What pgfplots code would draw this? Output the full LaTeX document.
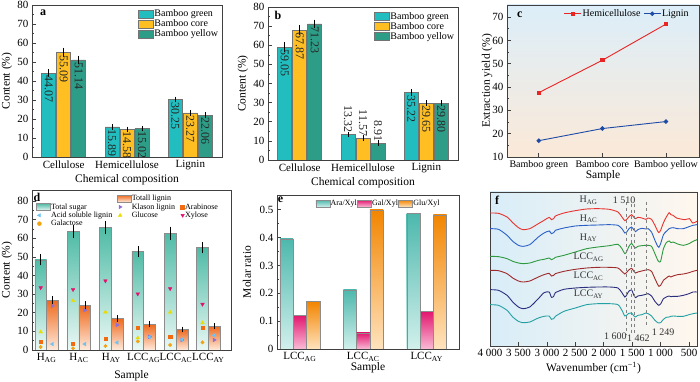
\documentclass[border=0pt]{standalone}
\usepackage{fontspec}
\setmainfont{Liberation Serif}
\usepackage{pgfplots}
\pgfplotsset{compat=1.18}

\definecolor{cg}{HTML}{22BEBF}
\definecolor{cc}{HTML}{FFBF22}
\definecolor{cy}{HTML}{2E9D88}
\definecolor{cred}{HTML}{E82424}
\definecolor{cblue}{HTML}{1E4BA5}
\definecolor{tsT}{HTML}{4FBBA6}
\definecolor{tsB}{HTML}{EAF8F5}
\definecolor{tlT}{HTML}{EE6A1E}
\definecolor{tlB}{HTML}{FFEADC}
\definecolor{eaT}{HTML}{4DB8AD}
\definecolor{eaB}{HTML}{D2F0EC}
\definecolor{epT}{HTML}{E2176F}
\definecolor{epB}{HTML}{F9BBD6}
\definecolor{eoT}{HTML}{F28500}
\definecolor{eoB}{HTML}{FFE3BE}
\definecolor{bgblue}{HTML}{DCEEF9}
\definecolor{bgpeach}{HTML}{FBE9D8}
\definecolor{fbgL}{HTML}{D8EDF8}
\definecolor{fbgR}{HTML}{FFF7EE}
\definecolor{axc}{HTML}{404040}
\definecolor{fR}{HTML}{E8332E}
\definecolor{fB}{HTML}{2A5FC8}
\definecolor{fG}{HTML}{2E9A40}
\definecolor{fBr}{HTML}{9E2B2B}
\definecolor{fN}{HTML}{2B2D7E}
\definecolor{fT}{HTML}{23A0A3}
\definecolor{mXy}{HTML}{E5106E}
\definecolor{mGlu}{HTML}{E8DC00}
\definecolor{mAra}{HTML}{F26B10}
\definecolor{mGal}{HTML}{F2A312}
\definecolor{mKl}{HTML}{8C6FD8}
\definecolor{mAs}{HTML}{6EC3F2}

\tikzset{letter/.style={font=\bfseries\fontsize{12}{12}\selectfont}}
\pgfplotsset{
  panel/.style={
    scale only axis, anchor=south west,
    axis line style={draw=axc, line width=0.7pt},
    tick align=inside,
    major tick length=3.5pt, minor tick length=2pt,
    tick style={draw=axc, line width=0.6pt},
    ytick pos=left, xtick pos=bottom,
    /pgf/number format/assume math mode=true,
    tick label style={font=\fontsize{11}{12}\selectfont, text=black},
    label style={font=\fontsize{11.5}{13}\selectfont},
  },
  bars/.style={ybar, bar width=14pt, bar shift=0pt, draw=black!55, line width=0.4pt, forget plot,
    error bars/y dir=both, error bars/y explicit,
    error bars/error bar style={black, line width=0.5pt},
    error bars/error mark options={black, line width=0.5pt, mark size=1.8pt}},
  inlab/.style={nodes near coords, point meta=explicit symbolic,
    every node near coord/.append style={rotate=-90, anchor=west, font=\fontsize{12}{12}\selectfont, inner sep=2.5pt, text=black!85}},
  outlab/.style={nodes near coords, point meta=explicit symbolic,
    every node near coord/.append style={rotate=-90, anchor=east, font=\fontsize{12}{12}\selectfont, inner sep=1.5pt, text=black!85}},
  dsug/.style={bars, bar width=11.7pt, draw=black!45, top color=tsT, bottom color=tsB},
  dlig/.style={bars, bar width=11.7pt, draw=black!45, top color=tlT, bottom color=tlB},
  ebar/.style={ybar, forget plot, bar width=13.3pt, bar shift=0pt, draw=black!45, line width=0.4pt},
  sw/.style={legend image code/.code={\draw[draw=black!55,#1] (0pt,-4pt) rectangle (15pt,4pt);}},
  sws/.style={legend image code/.code={\draw[draw=black!45,#1] (0pt,-3.5pt) rectangle (14pt,3.5pt);}},
  mk/.style n args={3}{legend image code/.code={\path plot[only marks, mark=#1, mark size=2pt, mark options={draw=#2, fill=#2, rotate=#3}] coordinates {(3pt,0pt)};}},
}

\begin{document}
\begin{tikzpicture}[font=\fontsize{11}{13}\selectfont]
\useasboundingbox (0,0) rectangle (700pt,382pt);

%================ a ================
\begin{axis}[panel, at={(32pt,225pt)}, width=190pt, height=152pt,
  xmin=-0.5, xmax=2.5, ymin=0, ymax=80,
  xtick={0,1,2}, xticklabels={Cellulose,Hemicellulose,Lignin}, major x tick style={draw=none},
  ytick={0,10,...,80}, minor y tick num=1,
  ylabel={Content (\%)}, xlabel={Chemical composition},
  ylabel style={at={(axis description cs:-0.132,0.5)}, anchor=center},
  xlabel style={at={(axis description cs:0.5,-0.151)}, anchor=center},
  legend style={at={(axis description cs:1,0.99)}, anchor=north east, draw=none, fill=none,
    font=\fontsize{10}{10}\selectfont, nodes={inner sep=0.8pt}, row sep=0pt},
  legend cell align=left]
\addlegendimage{sw={fill=cg}}\addlegendentry{Bamboo green}
\addlegendimage{sw={fill=cc}}\addlegendentry{Bamboo core}
\addlegendimage{sw={fill=cy}}\addlegendentry{Bamboo yellow}
\addplot[bars, inlab, fill=cg] table[x=x,y=y,y error=e,meta=l]{
x y e l
-0.2368 44.07 1.2 44.07
0.7632 15.89 0.5 15.89
1.7632 30.25 0.6 30.25
};
\addplot[bars, inlab, fill=cc] table[x=x,y=y,y error=e,meta=l]{
x y e l
0 55.09 1.5 55.09
1 14.58 0.5 14.58
2 23.27 0.5 23.27
};
\addplot[bars, inlab, fill=cy] table[x=x,y=y,y error=e,meta=l]{
x y e l
0.2368 51.14 1.3 51.14
1.2368 15.02 0.4 15.02
2.2368 22.06 0.5 22.06
};
\node[letter] at (rel axis cs:0.058,0.947) {a};
\end{axis}

%================ b ================
\begin{axis}[panel, at={(268pt,222pt)}, width=190pt, height=153pt,
  xmin=-0.5, xmax=2.5, ymin=0, ymax=80,
  xtick={0,1,2}, xticklabels={Cellulose,Hemicellulose,Lignin}, major x tick style={draw=none},
  ytick={0,10,...,80}, minor y tick num=1,
  ylabel={Content (\%)}, xlabel={Chemical composition},
  ylabel style={at={(axis description cs:-0.132,0.5)}, anchor=center},
  xlabel style={at={(axis description cs:0.5,-0.150)}, anchor=center},
  legend style={at={(axis description cs:1,0.985)}, anchor=north east, draw=none, fill=none,
    font=\fontsize{10}{10}\selectfont, nodes={inner sep=0.8pt}, row sep=0pt},
  legend cell align=left]
\addlegendimage{sw={fill=cg}}\addlegendentry{Bamboo green}
\addlegendimage{sw={fill=cc}}\addlegendentry{Bamboo core}
\addlegendimage{sw={fill=cy}}\addlegendentry{Bamboo yellow}
\addplot[bars, inlab, fill=cg] table[x=x,y=y,y error=e,meta=l]{
x y e l
-0.2368 59.05 1.5 59.05
1.7632 35.22 0.8 35.22
};
\addplot[bars, outlab, fill=cg] table[x=x,y=y,y error=e,meta=l]{
x y e l
0.7632 13.32 0.4 13.32
};
\addplot[bars, inlab, fill=cc] table[x=x,y=y,y error=e,meta=l]{
x y e l
0 67.87 1.8 67.87
2 29.65 0.6 29.65
};
\addplot[bars, outlab, fill=cc] table[x=x,y=y,y error=e,meta=l]{
x y e l
1 11.57 0.5 11.57
};
\addplot[bars, inlab, fill=cy] table[x=x,y=y,y error=e,meta=l]{
x y e l
0.2368 71.23 1.2 71.23
2.2368 29.80 0.5 29.80
};
\addplot[bars, outlab, fill=cy] table[x=x,y=y,y error=e,meta=l]{
x y e l
1.2368 8.91 0.4 8.91
};
\node[letter] at (rel axis cs:0.053,0.948) {b};
\end{axis}

%================ c ================
\begin{axis}[panel, at={(507pt,225pt)}, width=192pt, height=152pt,
  xmin=-0.5, xmax=2.52, ymin=10, ymax=75.2,
  axis background/.style={top color=bgblue, bottom color=bgpeach},
  xtick={0,1,2}, xticklabels={Bamboo green,Bamboo core,Bamboo yellow},
  xticklabel style={font=\fontsize{10}{11}\selectfont},
  ytick={10,20,...,70}, minor y tick num=1,
  ylabel={Extraction yield (\%)}, xlabel={Sample},
  ylabel style={at={(axis description cs:-0.104,0.5)}, anchor=center},
  xlabel style={at={(axis description cs:0.5,-0.125)}, anchor=center},
  legend style={at={(axis description cs:0.28,0.99)}, anchor=north west, draw=none, fill=none,
    font=\fontsize{10}{10}\selectfont, legend columns=2, nodes={inner sep=0.8pt},
    /tikz/every even column/.append style={column sep=2pt}},
  legend cell align=left]
\addplot[color=cred, line width=0.9pt, mark=square*, mark size=1.7pt] coordinates {(0,37.6)(1,51.5)(2,67.0)};
\addlegendentry{Hemicellulose}
\addplot[color=cblue, line width=0.9pt, mark=*, mark size=1.8pt] coordinates {(0,17.0)(1,22.2)(2,25.2)};
\addlegendentry{Lignin}
\node[letter] at (rel axis cs:0.067,0.934) {c};
\end{axis}

%================ d ================
\begin{axis}[panel, at={(32pt,32pt)}, width=199pt, height=160pt,
  xmin=-0.45, xmax=5.7, ymin=0, ymax=86,
  xtick={0,1,2,3,4,5}, major x tick style={draw=none},
  xticklabels={H\textsubscript{AG},H\textsubscript{AC},H\textsubscript{AY},LCC\textsubscript{AG},LCC\textsubscript{AC},LCC\textsubscript{AY}},
  ytick={0,10,...,80}, minor y tick num=1,
  ylabel={Content (\%)}, xlabel={Sample},
  ylabel style={at={(axis description cs:-0.126,0.5)}, anchor=center},
  xlabel style={at={(axis description cs:0.5,-0.1625)}, anchor=center},
  legend style={at={(axis description cs:0.005,0.985)}, anchor=north west, draw=none, fill=none,
    font=\fontsize{8}{8}\selectfont, legend columns=3, nodes={inner sep=0.5pt}, row sep=0.3pt,
    /tikz/every even column/.append style={column sep=4pt}},
  legend cell align=left]
\addlegendimage{empty legend}\addlegendentry{}
\addlegendimage{sws={top color=tlT, bottom color=tlB}}\addlegendentry{Totall lignin}
\addlegendimage{empty legend}\addlegendentry{}
\addlegendimage{sws={top color=tsT, bottom color=tsB}}\addlegendentry{Total sugar}
\addlegendimage{mk={triangle*}{mKl}{-90}}\addlegendentry{Klason lignin}
\addlegendimage{mk={square*}{mAra}{0}}\addlegendentry{Arabinose}
\addlegendimage{mk={triangle*}{mAs}{90}}\addlegendentry{Acid soluble lignin}
\addlegendimage{mk={triangle*}{mGlu}{0}}\addlegendentry{Glucose}
\addlegendimage{mk={triangle*}{mXy}{180}}\addlegendentry{Xylose}
\addlegendimage{mk={*}{mGal}{0}}\addlegendentry{Galactose}
% total sugar
\addplot[dsug] coordinates {(-0.181,48.5) +- (0,2.0)};
\addplot[dsug] coordinates {(0.819,63.8) +- (0,2.5)};
\addplot[dsug] coordinates {(1.819,65.8) +- (0,2.5)};
\addplot[dsug] coordinates {(2.819,53.0) +- (0,2.0)};
\addplot[dsug] coordinates {(3.819,62.8) +- (0,2.5)};
\addplot[dsug] coordinates {(4.819,55.0) +- (0,2.0)};
% total lignin
\addplot[dlig] coordinates {(0.181,26.8) +- (0,1.3)};
\addplot[dlig] coordinates {(1.181,24.0) +- (0,1.3)};
\addplot[dlig] coordinates {(2.181,17.0) +- (0,0.8)};
\addplot[dlig] coordinates {(3.181,13.8) +- (0,0.6)};
\addplot[dlig] coordinates {(4.181,11.0) +- (0,0.6)};
\addplot[dlig] coordinates {(5.181,12.9) +- (0,0.6)};
\addplot[only marks, forget plot, mark=triangle*, mark size=2.1pt, mark options={rotate=180, draw=mXy, fill=mXy}] coordinates {(-0.181,33.5)(0.819,32.5)(1.819,37.2)(2.819,30.2)(3.819,33.0)(4.819,24.6)};
\addplot[only marks, forget plot, mark=triangle*, mark size=2.1pt, mark options={draw=mGlu, fill=mGlu}] coordinates {(-0.181,9.7)(0.819,26.5)(1.819,20.4)(2.819,6.5)(3.819,20.3)(4.819,14.6)};
\addplot[only marks, forget plot, mark=square*, mark size=1.6pt, mark options={draw=mAra, fill=mAra}] coordinates {(-0.181,4.4)(0.819,3.6)(1.819,5.9)(2.819,12.1)(3.819,7.3)(4.819,12.1)};
\addplot[only marks, forget plot, mark=*, mark size=1.7pt, mark options={draw=mGal, fill=mGal}] coordinates {(-0.181,1.6)(0.819,0.9)(1.819,2.1)(2.819,4.6)(3.819,2.7)(4.819,4.1)};
\addplot[only marks, forget plot, mark=triangle*, mark size=2.1pt, mark options={rotate=-90, draw=mKl, fill=mKl}] coordinates {(0.181,23.7)(1.181,21.4)(2.181,13.5)(3.181,7.1)(4.181,5.4)(5.181,5.4)};
\addplot[only marks, forget plot, mark=triangle*, mark size=2.1pt, mark options={rotate=90, draw=mAs, fill=mAs}] coordinates {(0.181,3.2)(1.181,3.2)(2.181,4.0)(3.181,6.9)(4.181,5.6)(5.181,7.9)};
\node[letter] at (rel axis cs:0.025,0.956) {d};
\end{axis}

%================ e ================
\begin{axis}[panel, at={(277pt,33pt)}, width=182pt, height=154pt,
  xmin=-0.36, xmax=2.51, ymin=0, ymax=0.553,
  xtick={0,1,2}, major x tick style={draw=none},
  xticklabels={LCC\textsubscript{AG},LCC\textsubscript{AC},LCC\textsubscript{AY}},
  ytick={0,0.1,...,0.5}, minor y tick num=1,
  yticklabel style={/pgf/number format/fixed},
  ylabel={Molar ratio}, xlabel={Sample},
  ylabel style={at={(axis description cs:-0.165,0.5)}, anchor=center},
  xlabel style={at={(axis description cs:0.5,-0.123)}, anchor=center},
  legend style={at={(axis description cs:0.195,0.985)}, anchor=north west, draw=none, fill=none,
    font=\fontsize{8}{8}\selectfont, legend columns=3, nodes={inner sep=0.5pt},
    /tikz/every even column/.append style={column sep=0pt}},
  legend cell align=left]
\addlegendimage{sws={top color=eaT, bottom color=eaB}}\addlegendentry{Ara/Xyl}
\addlegendimage{sws={top color=epT, bottom color=epB}}\addlegendentry{Gal/Xyl}
\addlegendimage{sws={top color=eoT, bottom color=eoB}}\addlegendentry{Glu/Xyl}
\addplot[ebar, top color=eaT, bottom color=eaB] coordinates {(-0.2097,0.395)};
\addplot[ebar, top color=eaT, bottom color=eaB] coordinates {(0.7903,0.212)};
\addplot[ebar, top color=eaT, bottom color=eaB] coordinates {(1.7903,0.487)};
\addplot[ebar, top color=epT, bottom color=epB] coordinates {(0,0.122)};
\addplot[ebar, top color=epT, bottom color=epB] coordinates {(1,0.058)};
\addplot[ebar, top color=epT, bottom color=epB] coordinates {(2,0.134)};
\addplot[ebar, top color=eoT, bottom color=eoB] coordinates {(0.2097,0.170)};
\addplot[ebar, top color=eoT, bottom color=eoB] coordinates {(1.2097,0.500)};
\addplot[ebar, top color=eoT, bottom color=eoB] coordinates {(2.2097,0.482)};
\node[letter] at (rel axis cs:0.02,0.967) {e};
\end{axis}

%================ f ================
\begin{axis}[panel, at={(490pt,36pt)}, width=207pt, height=154pt,
  x dir=reverse, xmin=360, xmax=4000, ymin=-482, ymax=-20,
  axis background/.style={left color=fbgL, right color=fbgR},
  ytick=\empty,
  xtick={4000,3500,3000,2500,2000,1500,1000,500},
  xticklabels={4~000,3~500,3~000,2~500,2~000,1~500,1~000,500},
  xlabel={Wavenumber (cm\textsuperscript{−1})},
  xlabel style={at={(axis description cs:0.5,-0.143)}, anchor=center},
  every axis plot/.append style={line width=0.9pt, smooth, tension=0.4, mark=none}]
\addplot[fR] coordinates {(4000,-83)(3850,-84)(3700,-95)(3600,-112)(3500,-127)(3420,-133)(3300,-130)(3150,-115)(3050,-105)(2960,-96)(2920,-103)(2880,-100)(2850,-92)(2700,-83)(2500,-76)(2300,-71)(2100,-70)(1900,-72)(1750,-80)(1680,-95)(1630,-106)(1600,-103)(1560,-95)(1510,-88)(1470,-96)(1440,-100)(1400,-96)(1330,-98)(1260,-102)(1220,-98)(1160,-102)(1100,-120)(1050,-138)(1030,-142)(1000,-135)(950,-112)(900,-95)(850,-82)(820,-88)(780,-90)(720,-98)(575,-103)(490,-100)(440,-113)(360,-108)};
\addplot[fB] coordinates {(4000,-130)(3850,-132)(3700,-150)(3600,-168)(3500,-180)(3420,-183)(3300,-178)(3150,-155)(3050,-143)(2960,-137)(2920,-145)(2880,-142)(2850,-135)(2700,-128)(2500,-122)(2300,-120)(2100,-119)(1900,-118)(1750,-120)(1680,-130)(1630,-143)(1600,-141)(1560,-131)(1510,-125)(1470,-134)(1440,-139)(1400,-133)(1330,-129)(1260,-131)(1220,-130)(1160,-140)(1100,-165)(1050,-183)(1030,-186)(1000,-175)(950,-148)(900,-138)(850,-130)(820,-128)(780,-127)(700,-130)(600,-130)(500,-124)(430,-120)(360,-118)};
\addplot[fG] coordinates {(4000,-213)(3850,-214)(3700,-220)(3600,-228)(3500,-233)(3420,-235)(3300,-233)(3150,-225)(3050,-222)(2960,-218)(2920,-223)(2880,-220)(2850,-216)(2700,-210)(2500,-200)(2300,-190)(2100,-185)(1900,-181)(1750,-177)(1680,-190)(1630,-205)(1600,-200)(1560,-184)(1510,-174)(1470,-184)(1440,-188)(1400,-183)(1330,-181)(1260,-180)(1220,-180)(1160,-183)(1100,-205)(1050,-225)(1030,-229)(1000,-228)(950,-190)(900,-172)(850,-167)(820,-172)(780,-170)(700,-176)(600,-180)(500,-175)(430,-168)(360,-163)};
\addplot[fBr] coordinates {(4000,-255)(3850,-256)(3700,-265)(3600,-278)(3500,-287)(3420,-290)(3300,-287)(3150,-275)(3050,-268)(2960,-264)(2920,-272)(2880,-270)(2850,-265)(2700,-258)(2500,-252)(2300,-248)(2100,-246)(1900,-246)(1750,-248)(1680,-258)(1630,-266)(1600,-262)(1560,-254)(1510,-249)(1470,-258)(1440,-263)(1400,-260)(1330,-257)(1260,-254)(1220,-253)(1160,-258)(1100,-280)(1050,-298)(1030,-303)(1000,-300)(950,-285)(900,-278)(850,-272)(820,-275)(780,-272)(700,-268)(600,-266)(500,-262)(430,-258)(360,-255)};
\addplot[fN] coordinates {(4000,-313)(3850,-315)(3700,-330)(3600,-350)(3500,-365)(3420,-370)(3300,-365)(3150,-340)(3050,-322)(2960,-320)(2920,-336)(2880,-333)(2850,-322)(2700,-312)(2500,-308)(2300,-306)(2100,-305)(1900,-305)(1750,-308)(1680,-322)(1630,-335)(1600,-330)(1560,-318)(1510,-314)(1470,-330)(1440,-337)(1400,-332)(1330,-330)(1260,-327)(1220,-325)(1160,-332)(1100,-348)(1050,-358)(1030,-360)(1000,-356)(950,-340)(900,-335)(850,-332)(820,-334)(780,-333)(700,-333)(600,-330)(500,-325)(430,-320)(360,-320)};
\addplot[fT] coordinates {(4000,-358)(3850,-360)(3700,-375)(3600,-395)(3500,-408)(3420,-412)(3300,-410)(3150,-398)(3050,-393)(2960,-392)(2920,-402)(2880,-400)(2850,-393)(2700,-378)(2500,-368)(2300,-358)(2100,-355)(1900,-355)(1750,-358)(1680,-375)(1630,-392)(1600,-390)(1560,-384)(1510,-383)(1470,-392)(1440,-395)(1400,-390)(1330,-388)(1260,-383)(1220,-385)(1160,-392)(1100,-405)(1050,-412)(1030,-413)(1000,-412)(950,-402)(900,-396)(850,-395)(820,-393)(780,-392)(700,-393)(600,-393)(500,-388)(430,-385)(360,-383)};
\addplot[gray, dashed, line width=0.6pt, sharp plot] coordinates {(1600,-50)(1600,-448)};
\addplot[gray, dashed, line width=0.6pt, sharp plot] coordinates {(1510,-55)(1510,-448)};
\addplot[gray, dashed, line width=0.6pt, sharp plot] coordinates {(1462,-55)(1462,-448)};
\addplot[gray, dashed, line width=0.6pt, sharp plot] coordinates {(1249,-50)(1249,-425)};
\begin{scope}[font=\fontsize{10}{10}\selectfont, text=black!80]
\node at (axis cs:2267,-45) {H\textsubscript{AG}};
\node at (axis cs:2267,-100) {H\textsubscript{AC}};
\node at (axis cs:2267,-157) {H\textsubscript{AY}};
\node at (axis cs:2267,-215) {LCC\textsubscript{AG}};
\node at (axis cs:2267,-272) {LCC\textsubscript{AC}};
\node at (axis cs:2267,-327) {LCC\textsubscript{AY}};
\node at (axis cs:1643,-45) {1~510};
\node at (axis cs:1795,-453) {1~600};
\node at (axis cs:1392,-460) {1~462};
\node at (axis cs:954,-440) {1~249};
\end{scope}
\node[letter] at (rel axis cs:0.034,0.948) {f};
\end{axis}
\end{tikzpicture}
\end{document}
